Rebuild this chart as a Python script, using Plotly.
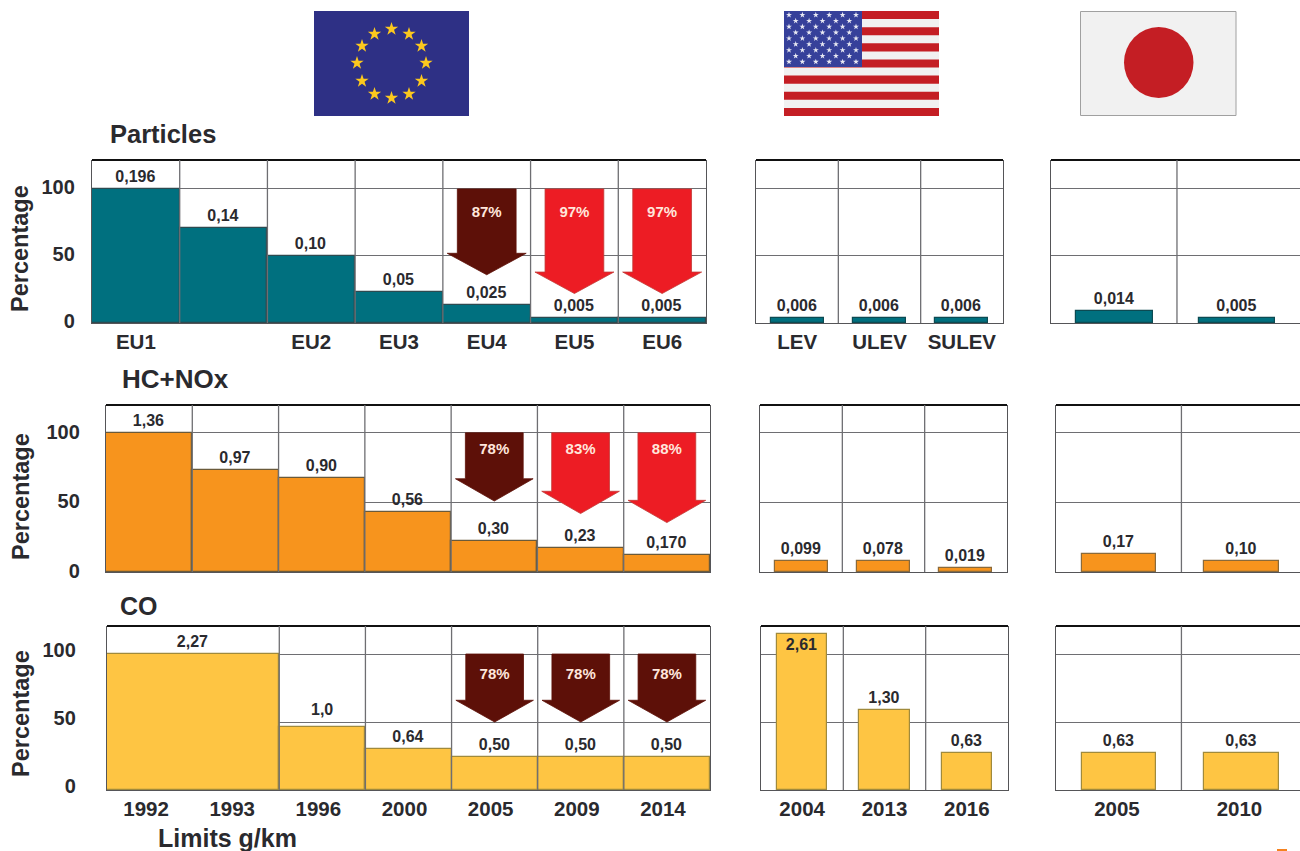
import plotly.graph_objects as go

W, H = 1300, 851
FONT = "Liberation Sans"
INK = "#2a2a2e"

# ---------- data ----------
eu_particle_labels = ["EU1", "", "EU2", "EU3", "EU4", "EU5", "EU6"]
eu_particle_values = [100, 71, 50, 23, 13.5, 3.5, 3.5]
eu_particle_limits = ["0,196", "0,14", "0,10", "0,05", "0,025", "0,005", "0,005"]
eu_particle_tips = [None, None, None, None, 36, 22, 22]
eu_particle_cuts = ["", "", "", "", "87%", "97%", "97%"]

us_particle_labels = ["LEV", "ULEV", "SULEV"]
us_particle_values = [3.5, 3.5, 3.5]
us_particle_limits = ["0,006", "0,006", "0,006"]

jp_particle_values = [9, 3.5]
jp_particle_limits = ["0,014", "0,005"]

eu_hc_values = [100, 73, 67.5, 43, 22, 17, 12.5]
eu_hc_limits = ["1,36", "0,97", "0,90", "0,56", "0,30", "0,23", "0,170"]
eu_hc_tips = [None, None, None, None, 51, 42, 35.5]
eu_hc_cuts = ["", "", "", "", "78%", "83%", "88%"]

us_hc_values = [8, 8, 3]
us_hc_limits = ["0,099", "0,078", "0,019"]

jp_hc_values = [13, 8]
jp_hc_limits = ["0,17", "0,10"]

eu_co_labels = ["1992", "1993", "1996", "2000", "2005", "2009", "2014"]
eu_co_values = [100, 46, 30, 24, 24, 24]
eu_co_limits = ["2,27", "1,0", "0,64", "0,50", "0,50", "0,50"]
eu_co_tips = [None, None, None, None, 50, 50, 50]
eu_co_cuts = ["", "", "", "", "78%", "78%", "78%"]

us_co_labels = ["2004", "2013", "2016"]
us_co_values = [115, 59, 27]
us_co_limits = ["2,61", "1,30", "0,63"]

jp_co_labels = ["2005", "2010"]
jp_co_values = [27, 27]
jp_co_limits = ["0,63", "0,63"]

pct_ticks = [0, 50, 100]
# ---------- colours ----------
TEAL, ORANGE, YELLOW = "#00707f", "#f7941d", "#fec543"
DARK_ARROW, RED_ARROW = "#5d1008", "#ed1c24"
FLAG_RED, FLAG_BLUE, FLAG_WHITE = "#c41e24", "#36409a", "#f1f1f1"
GRID = "#6e6e72"

fig = go.Figure()
layout = {}
shapes = []
annotations = []
counter = [0]


def panel(left, right, top, bottom, ymax, xmin, xmax, labels=None, ticks=False,
          mirror=True, standoff=8, yshift=0, xshift=0):
    counter[0] += 1
    n = counter[0]
    suffix = "" if n == 1 else str(n)
    layout["xaxis" + suffix] = dict(
        domain=[left / W, right / W], range=[xmin, xmax], anchor="y" + suffix,
        showgrid=False, zeroline=False, showline=True, linecolor="#555558", linewidth=1.3,
        ticks="", fixedrange=True, automargin=False,
        tickmode="array", tickvals=list(range(len(labels))) if labels else [],
        ticktext=labels or [], ticklabelshift=xshift,
        tickfont=dict(family=FONT, size=20.5, color=INK, weight="bold"),
    )
    layout["yaxis" + suffix] = dict(
        domain=[1 - bottom / H, 1 - top / H], range=[0, ymax], anchor="x" + suffix,
        showgrid=True, gridcolor=GRID, gridwidth=1.4, zeroline=False,
        showline=True, linecolor="#555558", linewidth=1.3, mirror=mirror, automargin=False,
        tickmode="array", tickvals=pct_ticks,
        ticktext=[str(t) for t in pct_ticks] if ticks else ["", "", ""],
        ticks="", ticklabelstandoff=standoff, ticklabelshift=yshift,
        tickfont=dict(family=FONT, size=20, color=INK, weight="bold"), fixedrange=True,
    )
    # heavy black top edge
    shapes.append(dict(type="line", xref="x%s domain" % suffix, yref="y%s domain" % suffix,
                       x0=0, x1=1, y0=1, y1=1, line=dict(color="#111111", width=2)))
    return "x" + suffix, "y" + suffix


def dividers(xa, ya, positions):
    for p in positions:
        shapes.append(dict(type="line", xref=xa, yref=ya + " domain", x0=p, x1=p, y0=0, y1=1,
                           line=dict(color=GRID, width=1.3)))


def bars(xa, ya, xs, values, limits, color, edge, width=1.0, inside=()):
    fig.add_trace(go.Bar(
        x=xs, y=values, width=width, xaxis=xa, yaxis=ya,
        marker=dict(color=color, line=dict(color=edge, width=1.2)),
        text=limits,
        textposition=["inside" if i in inside else "outside" for i in range(len(values))],
        insidetextanchor="end", constraintext="none", cliponaxis=False,
        textangle=0,
        textfont=dict(family=FONT, size=16, color=INK, weight="bold"),
        showlegend=False, hoverinfo="skip",
    ))


def arrows(xa, ya, tips, cuts, label_y, head=16.0):
    for i, (tip, cut) in enumerate(zip(tips, cuts)):
        if tip is None:
            continue
        dark = cut in ("87%", "78%")
        colour = DARK_ARROW if dark else RED_ARROW
        edge = DARK_ARROW if dark else "#c23a36"
        b, h = 0.335, 0.45
        shoulder = tip + head
        fig.add_trace(go.Scatter(
            x=[i - b, i + b, i + b, i + h, i, i - h, i - b, i - b],
            y=[100, 100, shoulder, shoulder, tip, shoulder, shoulder, 100],
            xaxis=xa, yaxis=ya, mode="lines", fill="toself", fillcolor=colour,
            line=dict(color=edge, width=0.8), showlegend=False, hoverinfo="skip",
        ))
        fig.add_trace(go.Scatter(
            x=[i], y=[label_y], text=[cut], mode="text", xaxis=xa, yaxis=ya,
            textposition="middle center",
            textfont=dict(family=FONT, size=15, color="#ffe6dc", weight="bold"),
            showlegend=False, hoverinfo="skip",
        ))


# ---------- row 1: particles ----------
edge_t = "#0c4a52"
xa, ya = panel(92, 706, 160, 323, 121.6, -0.5, 6.5, eu_particle_labels, True, standoff=12, yshift=-2)
bars(xa, ya, list(range(7)), eu_particle_values, eu_particle_limits, TEAL, "#2d4a50")
dividers(xa, ya, [0.5, 1.5, 2.5, 3.5, 4.5, 5.5])
arrows(xa, ya, eu_particle_tips, eu_particle_cuts, 82)

xa, ya = panel(756, 1003, 160, 323, 121.6, -0.5, 2.5, us_particle_labels)
bars(xa, ya, [0, 1, 2], us_particle_values, us_particle_limits, TEAL, edge_t, 0.64)
dividers(xa, ya, [0.5, 1.5])

xa, ya = panel(1051, 1300, 160, 323, 121.6, -0.518, 1.514, mirror=False)
bars(xa, ya, [0, 1], jp_particle_values, jp_particle_limits, TEAL, edge_t, 0.625)
dividers(xa, ya, [0.51])

# ---------- row 2: HC+NOx ----------
edge_o = "#8a6a3a"
xa, ya = panel(106, 710, 405, 572, 120, -0.5, 6.5, None, True, standoff=21, yshift=-1)
bars(xa, ya, list(range(7)), eu_hc_values, eu_hc_limits, ORANGE, "#6a5a3a")
dividers(xa, ya, [0.5, 1.5, 2.5, 3.5, 4.5, 5.5])
arrows(xa, ya, eu_hc_tips, eu_hc_cuts, 87.5)

xa, ya = panel(760, 1007, 405, 572, 120, -0.5, 2.5)
bars(xa, ya, [0, 1, 2], us_hc_values, us_hc_limits, ORANGE, edge_o, 0.64)
dividers(xa, ya, [0.5, 1.5])

xa, ya = panel(1056, 1300, 405, 572, 120, -0.514, 1.478, mirror=False)
bars(xa, ya, [0, 1], jp_hc_values, jp_hc_limits, ORANGE, edge_o, 0.61)
dividers(xa, ya, [0.51])

# ---------- row 3: CO ----------
edge_y = "#a08a3c"
xa, ya = panel(107, 710, 626, 790, 120.6, -0.5, 6.5, eu_co_labels, True, standoff=26, yshift=-4, xshift=-4)
# the "1,0" limit stands above the 50 % line in the original, so it is placed on its own
co_bar_text = [t if i != 1 else "" for i, t in enumerate(eu_co_limits)]
bars(xa, ya, [0.5, 2, 3, 4, 5, 6], eu_co_values, co_bar_text, YELLOW, edge_y,
     [2, 1, 1, 1, 1, 1])
annotations.append(dict(x=2, y=eu_co_values[1] + 13.5, xref=xa, yref=ya, text=eu_co_limits[1],
                        showarrow=False, font=dict(family=FONT, size=16, color=INK, weight="bold")))
dividers(xa, ya, [1.5, 2.5, 3.5, 4.5, 5.5])
arrows(xa, ya, eu_co_tips, eu_co_cuts, 84.5)

xa, ya = panel(761, 1008, 626, 790, 120.6, -0.5, 2.5, us_co_labels)
bars(xa, ya, [0, 1, 2], us_co_values, us_co_limits, YELLOW, edge_y, 0.61, inside=(0,))
dividers(xa, ya, [0.5, 1.5])

xa, ya = panel(1056, 1300, 626, 790, 120.6, -0.514, 1.478, jp_co_labels, mirror=False, xshift=-2)
bars(xa, ya, [0, 1], jp_co_values, jp_co_limits, YELLOW, edge_y, 0.61)
dividers(xa, ya, [0.51])

# ---------- flags, drawn on a full-page overlay ----------
layout["xaxis99"] = dict(domain=[0, 1], range=[0, W], visible=False, fixedrange=True, anchor="y99", automargin=False)
layout["yaxis99"] = dict(domain=[0, 1], range=[H, 0], visible=False, fixedrange=True, anchor="x99", automargin=False)


def px_rect(x0, y0, x1, y1, fill, line=None, width=0):
    shapes.append(dict(type="rect", xref="x99", yref="y99", x0=x0, x1=x1, y0=y0, y1=y1,
                       fillcolor=fill, line=dict(color=line or fill, width=width), layer="below"))


# EU
px_rect(314, 11, 469, 116, "#2e3085")
eu_star_x = [391.5, 409, 421.5, 426, 421.5, 409, 391.5, 374.5, 362, 357, 362, 374.5]
eu_star_y = [29, 34, 46, 63, 81, 94, 98, 94, 81, 63, 46, 34]
fig.add_trace(go.Scatter(x=eu_star_x, y=eu_star_y, xaxis="x99", yaxis="y99", mode="markers",
                         marker=dict(symbol="star", size=10, color="#fcc81e", line=dict(width=0)),
                         showlegend=False, hoverinfo="skip"))

# USA
px_rect(784, 11, 939, 116, FLAG_WHITE)
for s in range(7):
    y0 = 11 + s * 2 * 105 / 13
    px_rect(784, y0, 939, y0 + 105 / 13, FLAG_RED)
px_rect(784, 11, 862, 67, FLAG_BLUE)
us_star_x, us_star_y = [], []
for r in range(9):
    for c in range(6 if r % 2 == 0 else 5):
        us_star_x.append(789 + c * 13.4 + (6.7 if r % 2 else 0))
        us_star_y.append(15 + r * 5.85)
fig.add_trace(go.Scatter(x=us_star_x, y=us_star_y, xaxis="x99", yaxis="y99", mode="markers",
                         marker=dict(symbol="star", size=4.5, color="#e8e8f2", line=dict(width=0)),
                         showlegend=False, hoverinfo="skip"))

# Japan
px_rect(1080.5, 11.5, 1236, 115.5, FLAG_WHITE, "#a0a0a0", 1)
shapes.append(dict(type="circle", xref="x99", yref="y99", x0=1124, x1=1193.5, y0=27, y1=98,
                   fillcolor=FLAG_RED, line=dict(width=0), layer="below"))

# small orange mark bottom right
px_rect(1277, 849, 1287, 851, "#f58220")

# ---------- texts ----------
def note(x, y, text, size, angle=0, anchor="left"):
    annotations.append(dict(x=x / W, y=1 - y / H, xref="paper", yref="paper", text=text,
                            showarrow=False, xanchor=anchor, yanchor="middle", textangle=angle,
                            font=dict(family=FONT, size=size, color=INK, weight="bold")))


note(108, 134, "Particles", 25.5)
note(120, 379, "HC+NOx", 26)
note(118, 606, "CO", 25)
note(156, 838, "Limits g/km", 25)
note(20, 249, "Percentage", 23.5, -90, "center")
note(21, 497, "Percentage", 23.5, -90, "center")
note(21, 714, "Percentage", 23.5, -90, "center")

fig.update_layout(
    width=W, height=H, margin=dict(l=0, r=0, t=0, b=0), autosize=False,
    paper_bgcolor="white", plot_bgcolor="rgba(0,0,0,0)", showlegend=False,
    barmode="overlay", bargap=0,
    shapes=shapes, annotations=annotations, **layout,
)
fig.write_html("out.html", config={"displayModeBar": False},
               post_script="document.body.style.margin='0';document.body.style.overflow='hidden';")
